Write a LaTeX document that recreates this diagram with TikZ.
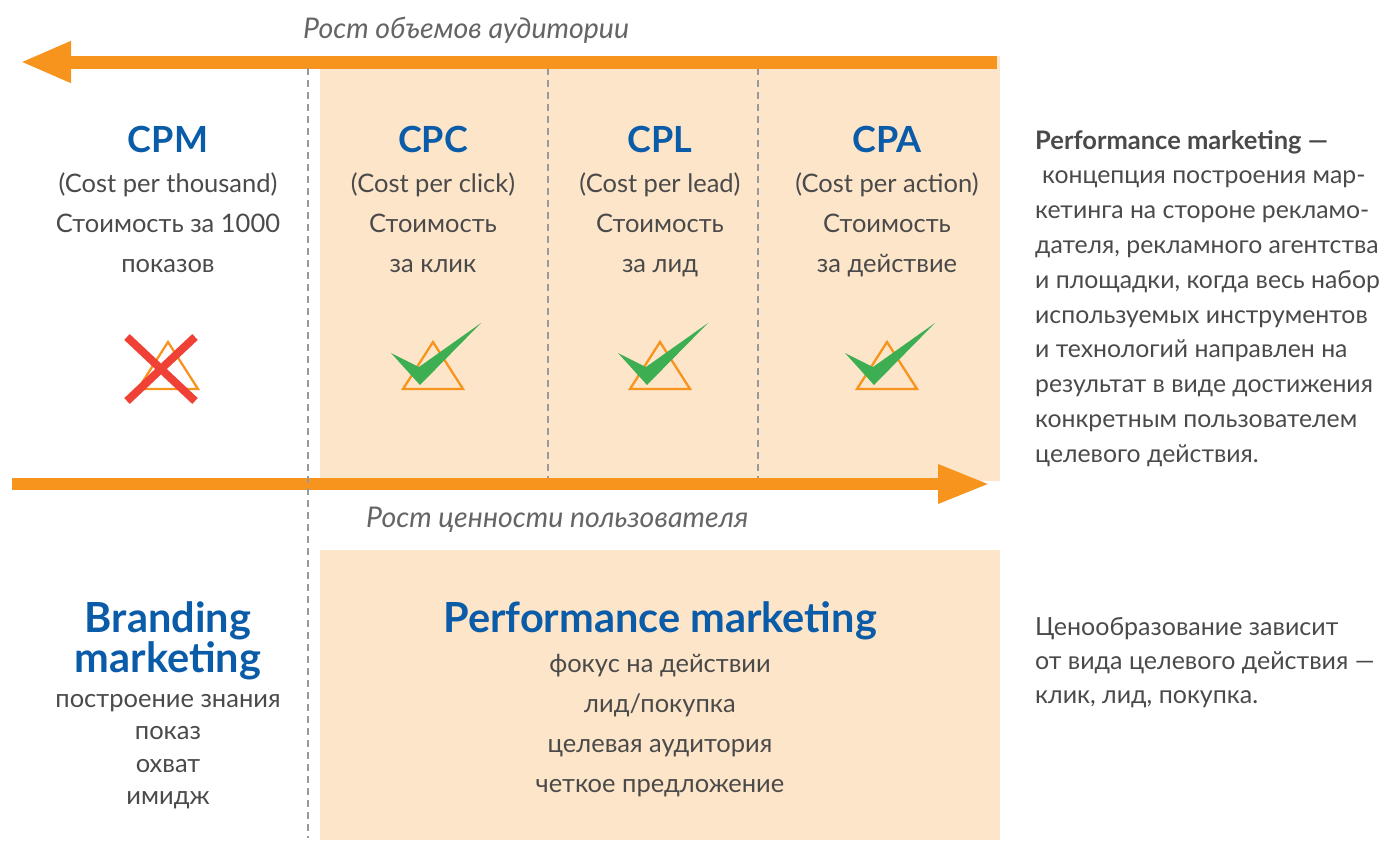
\documentclass[tikz,border=0pt]{standalone}
\usepackage{fontspec}
\setmainfont{Lato}
\usetikzlibrary{arrows.meta}
\definecolor{orng}{HTML}{F7941D}
\definecolor{peach}{HTML}{FDE5C9}
\definecolor{ttlblue}{HTML}{0B5CA8}
\definecolor{txtgray}{HTML}{4A4A4A}
\definecolor{dashgray}{HTML}{9A9A9A}
\definecolor{chkgreen}{HTML}{3EAE53}
\definecolor{xred}{HTML}{EF4136}
\begin{document}
\begin{tikzpicture}[x=1pt,y=-1pt,
  ttl/.style={text=ttlblue,font=\fontsize{36}{40}\bfseries,anchor=base,inner sep=0pt},
  bigttl/.style={ttl,font=\fontsize{41.5}{44}\bfseries},
  sub/.style={text=txtgray,font=\fontsize{25.5}{30}\selectfont,anchor=base,inner sep=0pt},
  lft/.style={sub,anchor=base west},
  growlbl/.style={text=txtgray!85,font=\fontsize{28.5}{30}\itshape,anchor=base west,inner sep=0pt},
  dline/.style={dashgray,line width=2.5pt,dash pattern=on 7pt off 5pt},
  tri/.style={orng,line width=2.3pt,line join=miter}]
\useasboundingbox (0,0) rectangle (1385,841);
% backgrounds
\fill[peach] (320,56) rectangle (1000,481);
\fill[peach] (320,550) rectangle (1000,840);
\draw[dline] (548,68)--(548,478);
\draw[dline] (758,68)--(758,478);
% arrows
\coordinate (audR) at (997,62); \coordinate (audL) at (20,62);
\coordinate (valL) at (12,484); \coordinate (valR) at (990,484);
\draw[orng,line width=13pt,-{Triangle[length=51pt,width=38pt]}] (audR)--(audL);
\draw[orng,line width=12pt,-{Triangle[length=52pt,width=36pt]}] (valL)--(valR);
\draw[dline] (308,68)--(308,838);
\node[growlbl] (aud) at (303,38) {Рост объемов аудитории};
\node[growlbl] (val) at (366,527) {Рост ценности пользователя};
% columns
\node[ttl] (cpm) at (168,152) {CPM};
\node[ttl] (cpc) at (433,152) {CPC};
\node[ttl] (cpl) at (660,152) {CPL};
\node[ttl] (cpa) at (887,152) {CPA};
\foreach \t [count=\i] in {{(Cost per thousand)},{Стоимость за 1000},показов}
  \node[sub] (cpm-\i) at (168,152+40*\i) {\t};
\foreach \t [count=\i] in {{(Cost per click)},Стоимость,за клик}
  \node[sub] (cpc-\i) at (433,152+40*\i) {\t};
\foreach \t [count=\i] in {{(Cost per lead)},Стоимость,за лид}
  \node[sub] (cpl-\i) at (660,152+40*\i) {\t};
\foreach \t [count=\i] in {{(Cost per action)},Стоимость,за действие}
  \node[sub] (cpa-\i) at (887,152+40*\i) {\t};
% icons
\foreach \c in {168,433,660,887}
  \draw[tri] (\c,342)--(\c+30,389)--(\c-30,389)--cycle;
\draw[xred,line width=8pt] (127,337)--(195,401) (195,337)--(127,401);
\foreach \c in {433,660,887}
  \fill[chkgreen] (\c-42,353)--(\c-14,367)--(\c+48,323)--(\c-13,385)--cycle;
% bottom part
\node[bigttl] (brand) at (168,632) {Branding};
\node[bigttl] (brand-2) at (168,672) {marketing};
\foreach \t [count=\i] in {построение знания,показ,охват,имидж}
  \node[sub] (br-\i) at (168,674.5+32.5*\i) {\t};
\node[bigttl] (perf) at (660,632) {Performance marketing};
\foreach \t [count=\i] in {фокус на действии,лид/покупка,целевая аудитория,четкое предложение}
  \node[sub] (pf-\i) at (660,632+40*\i) {\t};
% right texts
\node[lft,font=\fontsize{25.5}{30}\bfseries] (def) at (1035,149) {Performance marketing ---};
\foreach \t [count=\i] in {\hspace{7pt}концепция построения мар-,кетинга на стороне рекламо-,{дателя, рекламного агентства},{и площадки, когда весь набор},используемых инструментов,и технологий направлен на,результат в виде достижения,конкретным пользователем,целевого действия.}
  \node[lft,font=\fontsize{24.8}{30}\selectfont] (def-\i) at (1035,149+34.8*\i) {\t};
\foreach \t [count=\i from 0] in {Ценообразование зависит,от вида целевого действия ---,{клик, лид, покупка.}}
  \node[lft,font=\fontsize{25}{30}\selectfont] (price-\i) at (1035,635+34*\i) {\t};
\end{tikzpicture}
\end{document}
